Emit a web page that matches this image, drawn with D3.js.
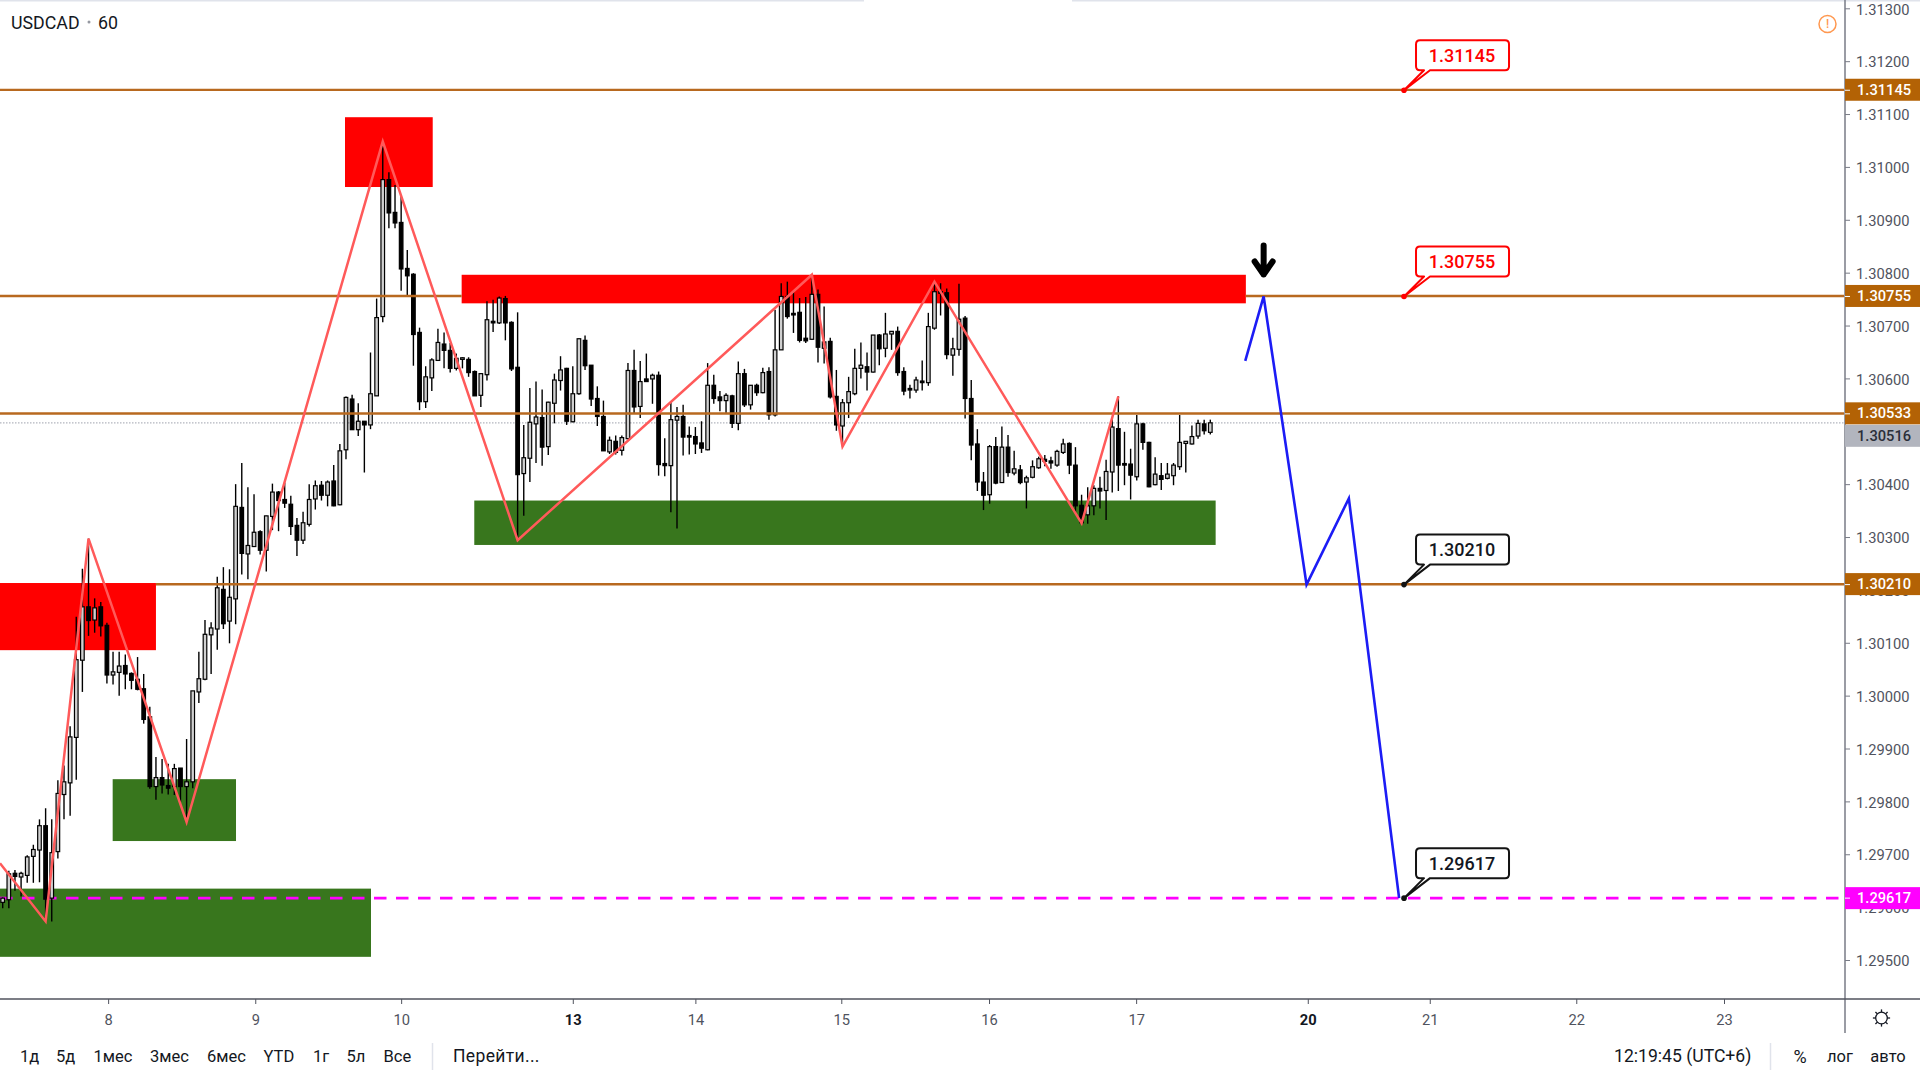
<!DOCTYPE html>
<html><head><meta charset="utf-8">
<script src="https://cdn.jsdelivr.net/npm/d3@7"></script>
<style>
html,body{margin:0;padding:0;background:#fff;overflow:hidden}
svg{display:block}
text{font-family:Roboto,"Noto Sans",sans-serif}
</style></head><body>
<svg id="chart" width="1920" height="1080"></svg>
<script>
const symbolTitle = "USDCAD";
const intervalTitle = "60";
const opens = [1.29609,1.29614,1.29664,1.29657,1.29660,1.29696,1.29708,1.29754,1.29617,1.29705,1.29813,1.29835,1.29921,1.30067,1.30168,1.30143,1.30168,1.30133,1.30039,1.30044,
1.30057,1.30042,1.30031,1.30013,1.29960,1.29828,1.29845,1.29830,1.29828,1.29863,1.29828,1.29837,1.30007,1.30031,1.30115,1.30126,1.30201,1.30141,1.30183,1.30356,
1.30268,1.30282,1.30310,1.30275,1.30339,1.30385,1.30371,1.30362,1.30322,1.30294,1.30324,1.30372,1.30398,1.30379,1.30406,1.30361,1.30465,1.30561,1.30503,1.30519,
1.30512,1.30567,1.30717,1.30976,1.30914,1.30895,1.30808,1.30797,1.30687,1.30556,1.30601,1.30634,1.30665,1.30653,1.30619,1.30636,1.30636,1.30613,1.30568,1.30607,
1.30708,1.30705,1.30751,1.30706,1.30621,1.30420,1.30449,1.30514,1.30526,1.30471,1.30553,1.30596,1.30619,1.30518,1.30571,1.30672,1.30625,1.30562,1.30528,1.30461,
1.30481,1.30464,1.30486,1.30615,1.30547,1.30599,1.30599,1.30606,1.30439,1.30435,1.30521,1.30528,1.30492,1.30490,1.30478,1.30465,1.30587,1.30565,1.30558,1.30567,
1.30515,1.30609,1.30550,1.30587,1.30573,1.30613,1.30531,1.30654,1.30755,1.30723,1.30725,1.30676,1.30674,1.30759,1.30657,1.30670,1.30566,1.30510,1.30554,1.30571,
1.30619,1.30622,1.30612,1.30682,1.30657,1.30684,1.30689,1.30613,1.30581,1.30578,1.30595,1.30592,1.30695,1.30764,1.30762,1.30644,1.30655,1.30714,1.30562,1.30476,
1.30404,1.30380,1.30471,1.30403,1.30470,1.30421,1.30427,1.30404,1.30413,1.30431,1.30447,1.30444,1.30436,1.30460,1.30477,1.30436,1.30360,1.30342,1.30359,1.30392,
1.30388,1.30423,1.30505,1.30439,1.30438,1.30414,1.30514,1.30479,1.30399,1.30416,1.30411,1.30416,1.30433,1.30477,1.30476,1.30491,1.30514,1.30498];
const highs = [1.29618,1.29669,1.29670,1.29667,1.29698,1.29718,1.29766,1.29787,1.29766,1.29840,1.29868,1.29942,1.30149,1.30240,1.30297,1.30184,1.30177,1.30138,1.30083,1.30083,
1.30078,1.30044,1.30073,1.30041,1.29979,1.29884,1.29880,1.29871,1.29871,1.29863,1.29918,1.30009,1.30083,1.30143,1.30139,1.30225,1.30243,1.30239,1.30400,1.30440,
1.30394,1.30381,1.30313,1.30340,1.30401,1.30387,1.30403,1.30378,1.30336,1.30348,1.30400,1.30407,1.30406,1.30407,1.30436,1.30476,1.30566,1.30569,1.30553,1.30519,
1.30649,1.30751,1.31048,1.30990,1.30966,1.30947,1.30843,1.30799,1.30696,1.30623,1.30638,1.30694,1.30687,1.30667,1.30647,1.30640,1.30640,1.30615,1.30610,1.30746,
1.30749,1.30755,1.30756,1.30708,1.30725,1.30512,1.30582,1.30594,1.30579,1.30556,1.30609,1.30642,1.30620,1.30623,1.30675,1.30681,1.30625,1.30585,1.30558,1.30490,
1.30492,1.30492,1.30629,1.30654,1.30633,1.30647,1.30609,1.30613,1.30487,1.30556,1.30546,1.30550,1.30509,1.30508,1.30519,1.30629,1.30607,1.30576,1.30572,1.30569,
1.30632,1.30618,1.30587,1.30590,1.30620,1.30621,1.30730,1.30780,1.30783,1.30764,1.30752,1.30754,1.30796,1.30768,1.30736,1.30677,1.30616,1.30561,1.30603,1.30656,
1.30668,1.30649,1.30682,1.30684,1.30724,1.30689,1.30698,1.30621,1.30588,1.30603,1.30634,1.30724,1.30783,1.30780,1.30770,1.30677,1.30779,1.30718,1.30597,1.30504,
1.30423,1.30474,1.30489,1.30509,1.30493,1.30463,1.30436,1.30416,1.30445,1.30452,1.30455,1.30452,1.30465,1.30486,1.30479,1.30470,1.30380,1.30394,1.30398,1.30414,
1.30446,1.30525,1.30566,1.30499,1.30467,1.30531,1.30516,1.30480,1.30451,1.30440,1.30440,1.30440,1.30531,1.30481,1.30511,1.30522,1.30522,1.30522];
const lows = [1.29598,1.29598,1.29631,1.29620,1.29646,1.29646,1.29647,1.29573,1.29573,1.29692,1.29766,1.29773,1.29841,1.30007,1.30113,1.30119,1.30112,1.30023,1.30021,1.30000,
1.30012,1.30012,1.30010,1.29947,1.29824,1.29803,1.29815,1.29813,1.29812,1.29799,1.29761,1.29825,1.29986,1.30029,1.30041,1.30087,1.30126,1.30099,1.30135,1.30229,
1.30220,1.30281,1.30267,1.30235,1.30313,1.30311,1.30355,1.30304,1.30264,1.30287,1.30320,1.30352,1.30369,1.30358,1.30358,1.30360,1.30447,1.30503,1.30491,1.30422,
1.30504,1.30567,1.30706,1.30884,1.30884,1.30766,1.30756,1.30624,1.30540,1.30544,1.30576,1.30634,1.30619,1.30611,1.30615,1.30619,1.30603,1.30567,1.30546,1.30596,
1.30688,1.30703,1.30672,1.30614,1.30294,1.30340,1.30404,1.30440,1.30435,1.30455,1.30515,1.30577,1.30512,1.30517,1.30569,1.30616,1.30548,1.30510,1.30463,1.30457,
1.30456,1.30454,1.30485,1.30534,1.30525,1.30594,1.30552,1.30416,1.30415,1.30347,1.30316,1.30454,1.30456,1.30457,1.30459,1.30464,1.30552,1.30538,1.30533,1.30506,
1.30502,1.30546,1.30541,1.30567,1.30572,1.30522,1.30528,1.30654,1.30713,1.30686,1.30668,1.30667,1.30673,1.30630,1.30628,1.30562,1.30501,1.30471,1.30525,1.30568,
1.30600,1.30577,1.30611,1.30625,1.30640,1.30654,1.30605,1.30568,1.30562,1.30573,1.30577,1.30586,1.30692,1.30719,1.30636,1.30605,1.30643,1.30524,1.30445,1.30387,
1.30351,1.30363,1.30400,1.30402,1.30414,1.30417,1.30400,1.30354,1.30411,1.30429,1.30434,1.30429,1.30433,1.30457,1.30419,1.30345,1.30326,1.30325,1.30341,1.30354,
1.30332,1.30384,1.30387,1.30398,1.30371,1.30407,1.30465,1.30394,1.30398,1.30389,1.30409,1.30398,1.30427,1.30422,1.30475,1.30486,1.30494,1.30494];
const closes = [1.29617,1.29663,1.29658,1.29664,1.29695,1.29709,1.29754,1.29615,1.29703,1.29815,1.29837,1.29922,1.30068,1.30168,1.30142,1.30166,1.30132,1.30039,1.30045,1.30056,
1.30041,1.30029,1.30012,1.29955,1.29828,1.29845,1.29831,1.29825,1.29862,1.29828,1.29837,1.30009,1.30032,1.30116,1.30128,1.30204,1.30136,1.30186,1.30358,1.30269,
1.30284,1.30309,1.30275,1.30340,1.30385,1.30369,1.30364,1.30320,1.30294,1.30327,1.30371,1.30397,1.30379,1.30404,1.30359,1.30463,1.30564,1.30503,1.30519,1.30512,
1.30571,1.30715,1.30976,1.30913,1.30894,1.30807,1.30794,1.30683,1.30556,1.30603,1.30635,1.30668,1.30653,1.30619,1.30638,1.30639,1.30611,1.30567,1.30609,1.30711,
1.30705,1.30752,1.30705,1.30618,1.30418,1.30450,1.30517,1.30527,1.30470,1.30555,1.30597,1.30616,1.30519,1.30571,1.30675,1.30624,1.30561,1.30528,1.30463,1.30483,
1.30460,1.30488,1.30615,1.30546,1.30594,1.30594,1.30606,1.30437,1.30435,1.30522,1.30528,1.30489,1.30489,1.30476,1.30468,1.30587,1.30562,1.30558,1.30568,1.30515,
1.30609,1.30550,1.30587,1.30573,1.30611,1.30531,1.30654,1.30755,1.30717,1.30720,1.30672,1.30671,1.30759,1.30659,1.30669,1.30565,1.30512,1.30554,1.30575,1.30619,
1.30625,1.30612,1.30682,1.30656,1.30684,1.30689,1.30611,1.30576,1.30578,1.30597,1.30592,1.30698,1.30764,1.30761,1.30645,1.30656,1.30712,1.30562,1.30474,1.30404,
1.30379,1.30471,1.30402,1.30470,1.30422,1.30429,1.30403,1.30412,1.30433,1.30448,1.30443,1.30440,1.30462,1.30476,1.30436,1.30359,1.30327,1.30359,1.30392,1.30387,
1.30424,1.30508,1.30436,1.30436,1.30417,1.30514,1.30479,1.30395,1.30419,1.30409,1.30419,1.30436,1.30479,1.30481,1.30490,1.30515,1.30501,1.30516];

const priceTicks = [1.313,1.312,1.311,1.31,1.309,1.308,1.307,1.306,1.305,1.304,1.303,1.302,1.301,1.3,1.299,1.298,1.297,1.296,1.295];
const dateTickBars = [17.2,41.2,65,93,113,136.8,160.9,184.9,212.9,232.8,256.7,280.8];
const dateTickLabels = ["8","9","10","13","14","15","16","17","20","21","22","23"];
const boldDateLabels = ["13","20"];

const levelPrices = [1.31145,1.30755,1.30755,1.30533,1.30210];
const levelFrom = [-1,-1,202.8,-1,25];
const levelTo = [300.4,74.87,300.4,300.4,300.4];
const axisBadgePrices = [1.31145,1.30755,1.30533,1.30210];
const currentPrice = 1.30516;
const targetPrice = 1.29617;

const zigzagBars = [-0.44,7,14,30,62,84,132,137,152,176,182];
const zigzagPrices = [1.29683,1.29573,1.30297,1.29761,1.31048,1.30294,1.30796,1.30471,1.30783,1.30326,1.30566];
const forecastBars = [202.7,205.7,212.7,219.6,227.8];
const forecastPrices = [1.30633,1.30755,1.30210,1.30373,1.29617];

const zoneBarStart = [-1,55.84,74.87,17.94,-1,76.93];
const zoneBarEnd = [25,70.15,202.8,38.06,60.08,197.87];
const zoneTop = [1.30213,1.31094,1.30796,1.29842,1.29635,1.30369];
const zoneBottom = [1.30086,1.30962,1.30742,1.29725,1.29506,1.30285];
const zoneColor = ["#ff0000","#ff0000","#ff0000","#38761d","#38761d","#38761d"];

const calloutPrices = [1.31145,1.30755,1.30210,1.29617];
const calloutColors = ["#ff0000","#ff0000","#131313","#131313"];
const calloutBar = 228.6;

const rangeLabels = ["1д","5д","1мес","3мес","6мес","YTD","1г","5л","Все"];
const rangeLabelX = [20,56,93.5,150,207,263.5,313,346.5,383.6];

const svg = d3.select("#chart");
const W = 1920, H = 1080, axisX = 1845, axisY = 999;
const x = d3.scaleLinear().domain([0,300]).range([2.7,1841.7]);
const y = d3.scaleLinear().domain([1.313,1.295]).range([8.3,960]);
const bars = d3.range(opens.length);
const fmt = d3.format(".5f");

svg.append("rect").attr("width",W).attr("height",H).attr("fill","#fff");
svg.append("rect").attr("x",0).attr("y",0).attr("width",864).attr("height",1.5).attr("fill","#e0e3eb");
svg.append("rect").attr("x",1072).attr("y",0).attr("width",848).attr("height",1.5).attr("fill","#e0e3eb");

svg.append("clipPath").attr("id","plot").append("rect").attr("x",0).attr("y",0).attr("width",axisX-1).attr("height",axisY);
const plot = svg.append("g").attr("clip-path","url(#plot)");

// supply and demand zones
plot.append("g").selectAll("rect").data(zoneTop).join("rect")
  .attr("x",(d,i)=>x(zoneBarStart[i]))
  .attr("width",(d,i)=>x(zoneBarEnd[i])-x(zoneBarStart[i]))
  .attr("y",d=>y(d))
  .attr("height",(d,i)=>y(zoneBottom[i])-y(d))
  .attr("fill",(d,i)=>zoneColor[i]);

// current price dotted line and target line
plot.append("line").attr("x1",0).attr("x2",axisX).attr("y1",y(currentPrice)).attr("y2",y(currentPrice))
  .attr("stroke","#b2b5be").attr("stroke-width",1.2).attr("stroke-dasharray","1.5 1.5");
plot.append("line").attr("x1",0).attr("x2",axisX).attr("y1",y(targetPrice)).attr("y2",y(targetPrice))
  .attr("stroke","#ff00ff").attr("stroke-width",2.6).attr("stroke-dasharray","12.5 9.5");

// candles
const candle = plot.append("g").selectAll("g").data(bars).join("g");
candle.append("line")
  .attr("x1",i=>x(i)).attr("x2",i=>x(i))
  .attr("y1",i=>y(highs[i])).attr("y2",i=>y(lows[i]))
  .attr("stroke","#000").attr("stroke-width",1.4);
candle.append("rect")
  .attr("x",i=>x(i)-1.8).attr("width",3.6)
  .attr("y",i=>y(Math.max(opens[i],closes[i])))
  .attr("height",i=>Math.max(1,Math.abs(y(opens[i])-y(closes[i]))))
  .attr("fill",i=>closes[i]>=opens[i]?"#d0d0d0":"#000")
  .attr("stroke","#000").attr("stroke-width",1.2);

// horizontal levels
plot.append("g").selectAll("line").data(levelPrices).join("line")
  .attr("x1",(d,i)=>x(levelFrom[i])).attr("x2",(d,i)=>x(levelTo[i]))
  .attr("y1",d=>y(d)-0.4).attr("y2",d=>y(d)-0.4)
  .attr("stroke","#b8691f").attr("stroke-width",2.4);

// wave lines
const lineGen = d3.line().x(d=>x(d[0])).y(d=>y(d[1]));
plot.append("path").attr("d",lineGen(zigzagBars.map((b,i)=>[b,zigzagPrices[i]])))
  .attr("fill","none").attr("stroke","#ff5a5a").attr("stroke-width",2.5);
plot.append("path").attr("d",lineGen(forecastBars.map((b,i)=>[b,forecastPrices[i]])))
  .attr("fill","none").attr("stroke","#1c1cf5").attr("stroke-width",2.6);

// arrow above the forecast peak
const ax = x(forecastBars[1]), ay = y(forecastPrices[1]);
svg.append("path").attr("d",`M${ax},${ay-51}V${ay-22}M${ax-9},${ay-35}L${ax},${ay-22}L${ax+9},${ay-35}`)
  .attr("fill","none").attr("stroke","#000").attr("stroke-width",6).attr("stroke-linejoin","round").attr("stroke-linecap","round");

// callouts
const callout = svg.append("g").selectAll("g").data(calloutPrices).join("g");
callout.append("path")
  .attr("d",d=>{
    const px=x(calloutBar), py=y(d), l=px+12, r=px+105, t=py-50, b=py-20, c=4;
    return `M${px},${py}L${l+8},${b}H${l+c}Q${l},${b} ${l},${b-c}V${t+c}Q${l},${t} ${l+c},${t}H${r-c}Q${r},${t} ${r},${t+c}V${b-c}Q${r},${b} ${r-c},${b}H${l+14}Z`;
  })
  .attr("fill","#fff").attr("stroke",(d,i)=>calloutColors[i]).attr("stroke-width",2).attr("stroke-linejoin","round");
callout.append("circle").attr("cx",x(calloutBar)).attr("cy",d=>y(d)).attr("r",2.8).attr("fill",(d,i)=>calloutColors[i]);
callout.append("text").attr("x",x(calloutBar)+58).attr("y",d=>y(d)-35)
  .attr("text-anchor","middle").attr("dominant-baseline","central")
  .attr("font-size",18).attr("font-weight",500).attr("fill",(d,i)=>calloutColors[i]==="#ff0000"?"#ff0000":"#131722")
  .text(d=>fmt(d));

// price axis
const yAxis = d3.axisRight(y).tickValues(priceTicks).tickSize(5).tickPadding(6).tickFormat(fmt);
const gy = svg.append("g").attr("transform",`translate(${axisX},0)`).call(yAxis);
gy.select(".domain").remove();
gy.selectAll("line").attr("stroke","#787b86");
gy.selectAll("text").attr("font-size",14.7).attr("font-family","Roboto").attr("fill","#50535e").attr("transform","translate(0,1)");
svg.append("line").attr("x1",axisX).attr("x2",axisX).attr("y1",0).attr("y2",1033).attr("stroke","#787b86").attr("stroke-width",1.5);

// badges on the price axis
const badge = (price,cy,bg,fg)=>{
  const g = svg.append("g");
  g.append("rect").attr("x",axisX).attr("y",cy-11).attr("width",75).attr("height",22).attr("fill",bg);
  g.append("line").attr("x1",axisX).attr("x2",axisX+5).attr("y1",y(price)).attr("y2",y(price)).attr("stroke",fg);
  g.append("text").attr("x",1857).attr("y",cy).attr("dominant-baseline","central").attr("font-size",14.7).attr("font-weight",500).attr("fill",fg).text(fmt(price));
};
badge(currentPrice,y(currentPrice)+13,"#b2b5be","#2a2e39");
axisBadgePrices.forEach(p=>badge(p,y(p)-0.5,"#b36205","#fff"));
badge(targetPrice,y(targetPrice),"#ff00ff","#fff");

// time axis
const xAxis = d3.axisBottom(x).tickValues(dateTickBars).tickSize(5).tickPadding(11).tickFormat((d,i)=>dateTickLabels[i]);
const gx = svg.append("g").attr("transform",`translate(0,${axisY})`).call(xAxis);
gx.select(".domain").remove();
gx.selectAll("line").attr("stroke","#50535e");
gx.selectAll("text").attr("font-size",14.7).attr("font-family","Roboto")
  .attr("fill",(d,i)=>boldDateLabels.includes(dateTickLabels[i])?"#131722":"#50535e")
  .attr("font-weight",(d,i)=>dateTickLabels[i]==="13"||dateTickLabels[i]==="20"?700:400);
svg.append("line").attr("x1",0).attr("x2",1920).attr("y1",axisY).attr("y2",axisY).attr("stroke","#50535e").attr("stroke-width",1.5);

// title
svg.append("text").attr("x",11).attr("y",22).attr("dominant-baseline","central").attr("font-size",17.8).attr("fill","#131722").text(symbolTitle);
svg.append("circle").attr("cx",89).attr("cy",22).attr("r",1.5).attr("fill","#9598a1");
svg.append("text").attr("x",98).attr("y",22).attr("dominant-baseline","central").attr("font-size",17.8).attr("fill","#131722").text(intervalTitle);

// warning icon
svg.append("circle").attr("cx",1827.5).attr("cy",24).attr("r",8.5).attr("fill","none").attr("stroke","#ff9850").attr("stroke-width",1.5);
svg.append("text").attr("x",1827.5).attr("y",24).attr("text-anchor","middle").attr("dominant-baseline","central").attr("font-size",12).attr("font-weight",500).attr("fill","#ff9850").text("!");

// settings icon
const gear = svg.append("g").attr("transform","translate(1881.5,1018)").attr("fill","none").attr("stroke","#131722").attr("stroke-width",1.3);
gear.append("circle").attr("r",5.8);
gear.selectAll("line").data(d3.range(8)).join("line")
  .attr("x1",d=>5.8*Math.cos(d*Math.PI/4)).attr("y1",d=>5.8*Math.sin(d*Math.PI/4))
  .attr("x2",d=>8.6*Math.cos(d*Math.PI/4)).attr("y2",d=>8.6*Math.sin(d*Math.PI/4));

// bottom toolbar
const tb = svg.append("g").attr("font-size",16.5).attr("fill","#131722");
tb.selectAll("text").data(rangeLabels).join("text")
  .attr("x",(d,i)=>rangeLabelX[i]).attr("y",1056).attr("dominant-baseline","central").text(d=>d);
tb.append("text").attr("x",453).attr("y",1056).attr("dominant-baseline","central").attr("font-size",17.5).attr("letter-spacing",0.35).text("Перейти...");
tb.append("text").attr("x",1614).attr("y",1056).attr("dominant-baseline","central").attr("font-size",17.6).text("12:19:45 (UTC+6)");
tb.append("text").attr("x",1800).attr("y",1056).attr("text-anchor","middle").attr("dominant-baseline","central").attr("font-size",18).text("%");
tb.append("text").attr("x",1840).attr("y",1056).attr("text-anchor","middle").attr("dominant-baseline","central").text("лог");
tb.append("text").attr("x",1888).attr("y",1056).attr("text-anchor","middle").attr("dominant-baseline","central").text("авто");
[432.5,1770.5].forEach(sx=>svg.append("line").attr("x1",sx).attr("x2",sx).attr("y1",1043).attr("y2",1070).attr("stroke","#e0e3eb").attr("stroke-width",1.5));
</script>
</body></html>
